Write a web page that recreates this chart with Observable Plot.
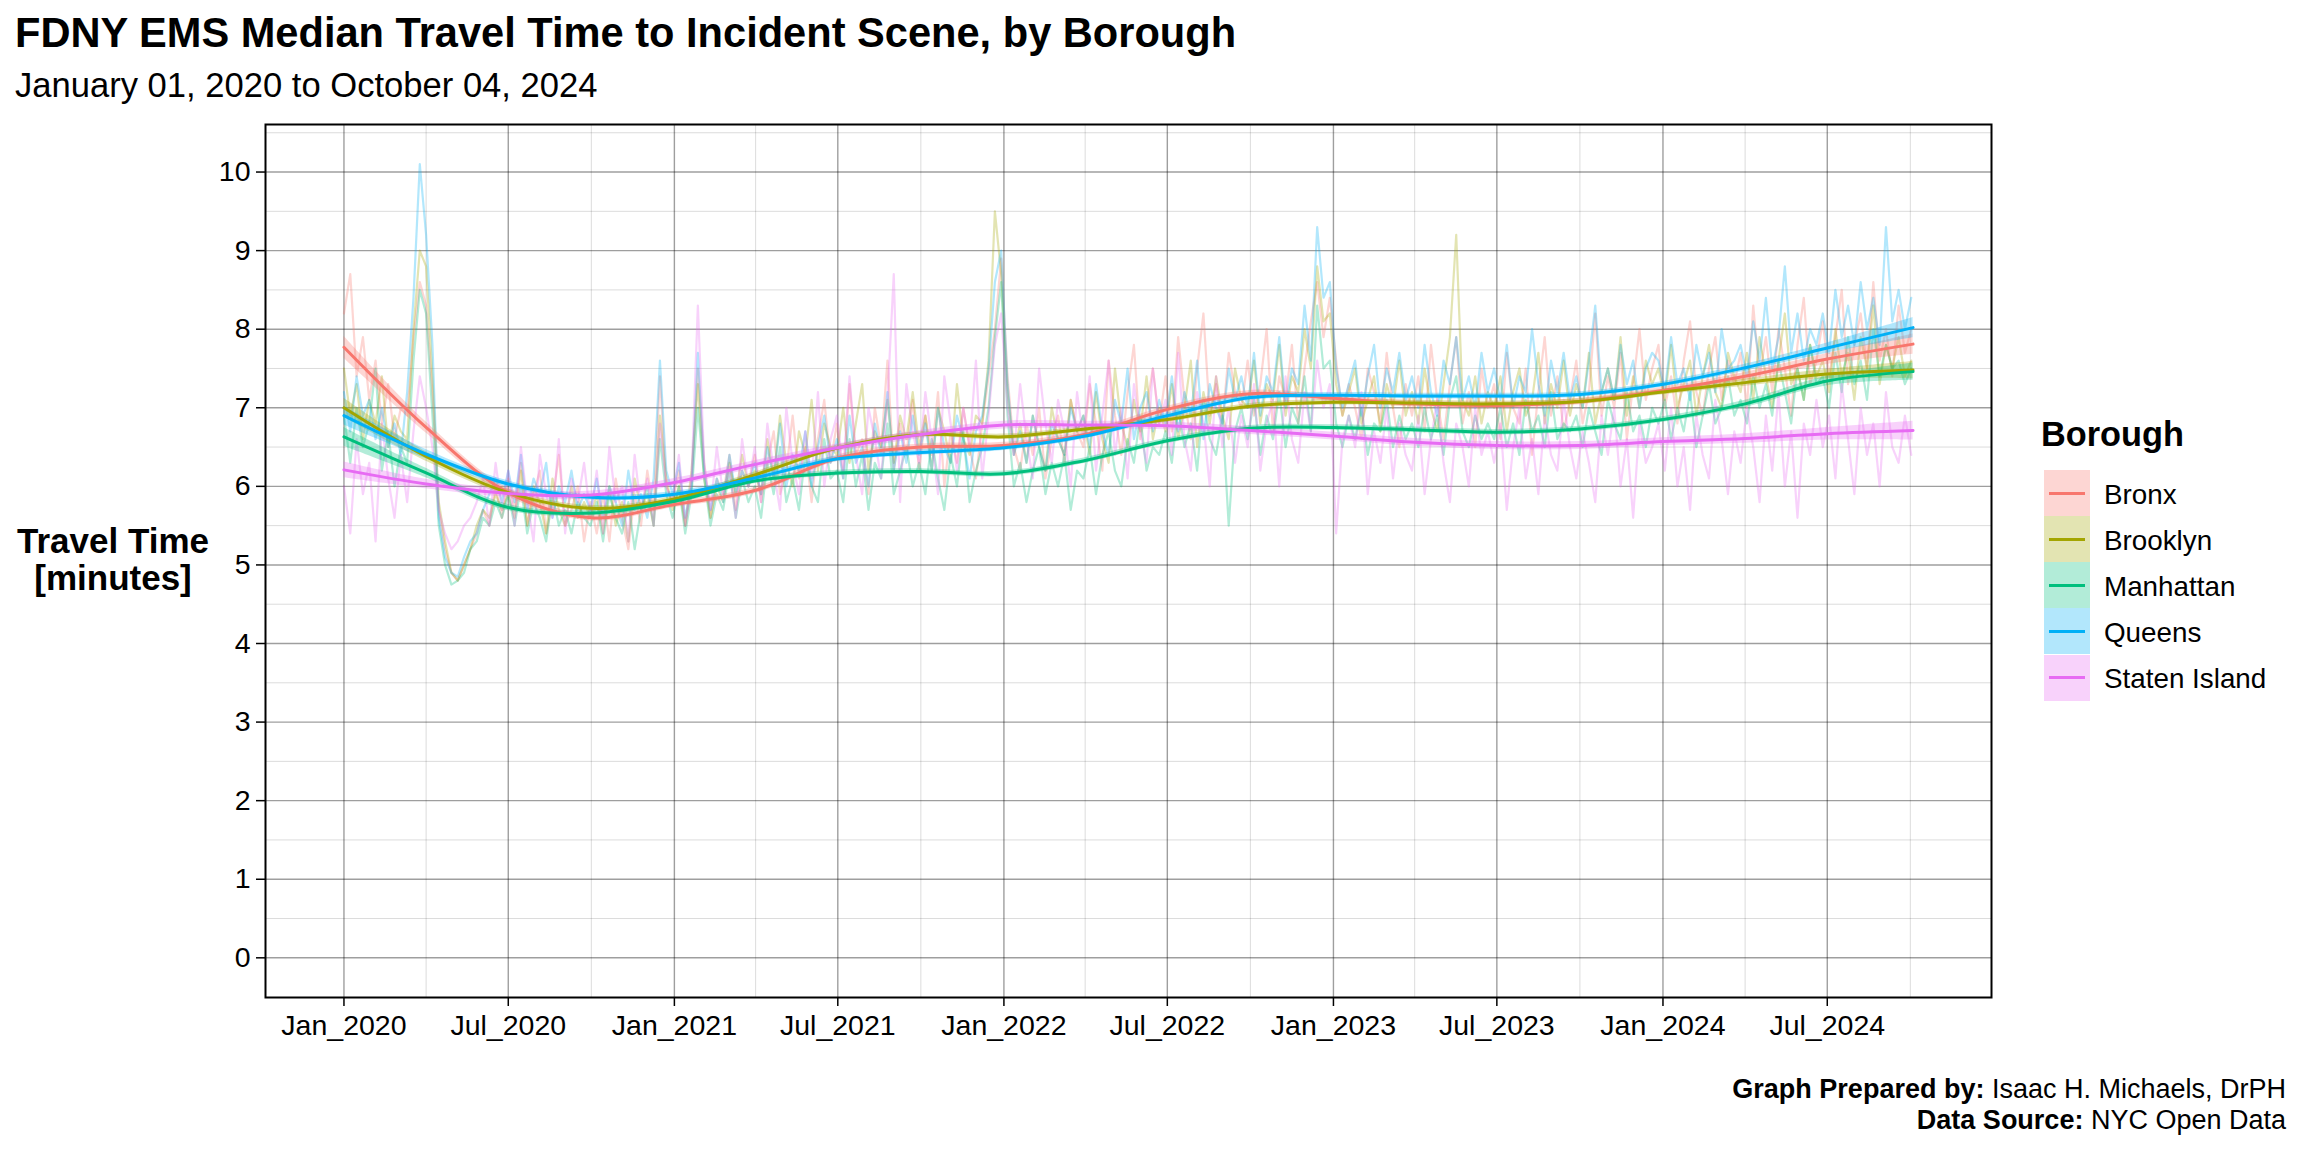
<!DOCTYPE html>
<html>
<head>
<meta charset="utf-8">
<script src="https://cdn.jsdelivr.net/npm/d3@7"></script>
<script src="https://cdn.jsdelivr.net/npm/@observablehq/plot@0.6"></script>
<style>
  html, body { margin: 0; padding: 0; background: #fff; }
  body { font-family: "Liberation Sans", Arial, Helvetica, sans-serif; color: #000; }
  #wrap { position: relative; width: 2304px; height: 1152px; overflow: hidden; background: #fff; }
  .abs { position: absolute; white-space: nowrap; }
  #title { left: 15px; top: 11.5px; font-size: 41.6px; line-height: 1; font-weight: bold; }
  #subtitle { left: 15px; top: 68px; font-size: 34.6px; line-height: 1; }
  #ytitle { left: 13px; top: 522px; width: 200px; text-align: center; font-size: 35px; line-height: 37px; font-weight: bold; }
  #legtitle { left: 2041px; top: 417px; font-size: 34.3px; line-height: 1; font-weight: bold; }
  .legkey { position: absolute; width: 46px; height: 46px; }
  .legline { position: absolute; left: 5px; width: 36px; height: 3px; top: 21.5px; }
  .leglab { position: absolute; font-size: 27.8px; line-height: 1; white-space: nowrap; }
  .cap { right: 18px; font-size: 27px; line-height: 24px; height: 24px; text-align: right; }
  #cap1 { top: 1077px; }
  #cap2 { top: 1108px; }
  #chart { position: absolute; left: 0; top: 0; }
</style>
</head>
<body>
<div id="wrap">
  <div id="chart"></div>
  <div id="title" class="abs">FDNY EMS Median Travel Time to Incident Scene, by Borough</div>
  <div id="subtitle" class="abs">January 01, 2020 to October 04, 2024</div>
  <div id="ytitle" class="abs">Travel Time<br>[minutes]</div>
  <div id="legtitle" class="abs">Borough</div>
  <div id="legend"></div>
  <div id="cap1" class="abs cap"><b>Graph Prepared by:</b> Isaac H. Michaels, DrPH</div>
  <div id="cap2" class="abs cap"><b>Data Source:</b> NYC Open Data</div>
</div>
<script>
// ---------------- DATA ----------------
const boroughs = ["Bronx", "Brooklyn", "Manhattan", "Queens", "Staten Island"];
const boroughColors = ["#F8766D", "#A3A500", "#00BF7D", "#00B0F6", "#E76BF3"];

// weekly samples of the median travel time, starting 2020-01-01, one value every 7 days
const rawStart = "2020-01-01";
const rawStepDays = 7;

const bronxRaw = [
8.2,8.7,7.4,7.9,7.1,7.6,6.8,7.3,6.6,7.0,6.9,7.9,8.6,
8.3,7.2,5.7,5.2,4.9,4.8,5.0,5.2,5.4,5.7,5.5,6.0,5.6,
6.1,5.7,6.3,5.5,5.9,6.2,5.4,5.8,6.4,5.5,5.7,6.0,5.3,
5.8,5.4,5.9,5.3,6.1,5.6,5.2,5.9,5.5,6.2,5.7,7.4,6.0,
5.8,6.2,5.5,6.0,7.5,6.3,5.6,6.1,5.9,6.4,5.7,6.2,6.0,
6.4,5.8,6.3,6.7,5.9,6.2,6.9,6.1,6.5,5.8,6.6,7.1,6.3,
6.8,6.1,7.3,6.4,6.6,5.9,7.0,6.5,7.6,6.2,6.8,6.4,7.1,
6.2,6.9,6.4,7.2,6.0,6.7,6.3,7.0,6.5,6.1,6.8,7.4,8.0,
8.9,7.4,6.5,6.2,6.8,6.4,7.0,6.1,6.6,6.9,6.3,7.1,6.7,
6.5,7.3,6.8,6.2,7.6,6.9,6.4,7.2,7.8,6.6,7.0,7.5,6.8,
7.4,6.7,7.9,7.1,6.6,7.5,8.2,6.9,7.3,6.8,7.7,7.2,7.0,
7.6,6.9,7.3,8.0,6.7,7.4,7.1,7.8,6.8,7.5,8.1,8.6,7.9,
8.4,7.6,6.9,7.3,7.0,6.6,7.5,7.2,6.8,7.7,7.0,6.5,7.3,
6.9,7.4,6.7,7.8,7.1,6.6,7.3,7.9,6.8,7.2,6.5,7.5,7.0,
7.3,6.6,7.7,7.0,6.8,7.5,6.4,7.2,7.9,6.9,7.4,6.7,7.1,
7.6,6.8,7.2,8.2,6.9,7.4,7.0,7.7,6.6,7.3,8.0,7.1,7.5,
7.8,7.0,7.4,6.8,7.6,8.1,7.2,6.9,7.5,7.9,7.1,7.6,7.3,
7.7,7.0,8.3,7.4,7.9,7.2,8.0,7.5,6.9,7.8,8.4,7.3,7.6,
8.1,7.4,7.9,8.5,7.3,7.8,8.2,7.5,8.6,7.6,8.0,7.4,8.3,
7.7,8.0];

const brooklynRaw = [
7.5,6.9,7.3,6.6,7.1,6.8,7.4,6.5,6.9,6.7,6.6,8.0,9.0,
8.8,7.4,5.8,5.3,4.9,4.8,5.0,5.2,5.5,5.7,5.6,5.9,5.7,
5.9,5.6,6.2,5.5,6.0,5.8,5.4,6.1,5.7,5.5,6.0,5.6,5.8,
5.6,5.9,5.4,6.0,5.5,5.8,5.3,6.1,5.7,5.9,5.5,6.9,6.1,
5.7,6.0,5.5,6.2,7.3,6.1,5.6,6.0,5.8,6.3,5.9,6.4,6.0,
6.2,5.9,6.6,6.1,6.9,6.3,6.0,6.7,6.4,7.1,6.2,6.8,6.5,
6.4,7.0,6.3,6.8,7.3,6.2,6.7,6.5,7.1,6.3,6.9,6.6,7.2,
6.5,6.9,6.2,7.0,6.7,6.3,7.3,6.6,6.4,6.9,6.8,7.6,9.5,
8.7,7.2,6.4,6.8,6.3,6.9,6.5,6.2,7.0,6.6,6.4,7.1,6.7,
6.9,6.4,7.2,6.6,6.3,7.5,6.8,6.5,7.1,6.7,7.4,6.6,7.0,
6.7,7.3,6.6,7.0,7.6,6.5,7.2,6.8,7.4,6.9,6.6,7.5,7.1,
7.0,7.6,6.8,7.3,7.1,7.8,6.9,7.4,7.2,8.0,7.5,8.8,8.1,
8.2,7.3,6.9,7.2,7.5,6.8,7.1,7.4,6.7,7.3,7.0,7.6,6.9,
7.2,6.8,7.5,7.0,6.7,7.3,7.9,9.2,7.1,6.9,7.4,6.8,7.2,
7.0,7.4,6.7,7.2,7.5,6.9,7.1,7.7,6.8,7.3,7.0,7.6,6.9,
7.3,7.0,7.7,6.8,7.2,7.5,7.1,7.9,6.9,7.4,7.0,7.6,7.3,
7.5,7.1,7.8,7.0,7.3,7.6,6.9,7.4,7.8,7.2,7.0,7.7,7.4,
7.2,7.7,7.1,7.9,7.4,7.0,7.6,8.2,7.3,7.5,7.1,7.8,7.4,
7.6,7.2,8.0,7.4,7.7,7.1,7.9,7.5,8.3,7.3,7.8,7.5,7.9,
7.4,7.6];

const manhattanRaw = [
6.9,6.3,7.0,6.5,6.8,7.5,6.2,6.7,6.0,6.5,6.3,7.6,8.5,
8.2,6.9,5.5,5.0,4.75,4.8,4.9,5.2,5.3,5.6,5.5,5.8,5.6,
5.9,5.5,6.0,5.4,5.8,5.6,5.3,5.9,5.5,5.7,5.4,5.8,5.6,
5.5,5.8,5.3,5.9,5.6,5.4,5.8,5.2,5.7,6.0,5.5,6.6,5.9,
5.6,6.0,5.4,5.9,7.0,6.1,5.5,5.9,5.7,6.2,5.6,6.1,5.8,
6.0,5.6,6.3,5.9,6.5,5.8,6.1,5.7,6.4,6.0,5.8,6.6,6.1,
6.2,5.8,6.6,6.0,6.4,5.7,6.3,6.1,6.8,5.9,6.2,6.5,6.0,
6.3,5.9,6.6,6.1,5.7,6.4,6.0,6.7,5.8,6.2,6.5,7.0,7.9,
8.6,6.9,6.0,6.3,5.8,6.2,6.5,5.9,6.3,6.0,6.4,5.7,6.2,
6.1,6.5,5.9,6.4,6.7,6.2,6.0,6.6,6.3,6.9,6.2,6.5,6.4,
6.7,6.3,7.0,6.5,6.8,6.2,7.1,6.6,6.4,6.9,5.5,6.7,7.0,
6.6,7.1,6.4,6.9,6.6,7.2,6.5,7.0,6.8,7.4,6.7,8.3,7.5,
7.6,6.8,6.5,6.9,6.6,7.0,6.4,6.8,6.7,7.1,6.5,6.9,6.6,
6.8,6.5,7.0,6.6,6.9,6.4,7.1,7.4,6.7,6.5,6.9,6.6,6.8,
6.6,7.0,6.5,6.8,6.4,7.1,6.7,6.9,6.5,7.2,6.6,6.8,6.7,
6.9,6.5,7.0,6.7,6.4,7.1,6.8,6.6,7.2,6.7,6.9,6.5,7.0,
6.8,7.1,6.6,7.0,6.7,7.2,6.5,6.9,7.3,6.8,7.0,7.4,6.9,
7.1,6.8,7.4,7.0,7.3,6.9,7.6,7.2,6.8,7.5,7.1,7.8,7.3,
7.4,7.0,7.7,7.2,7.9,7.3,7.6,7.1,8.0,7.4,7.8,7.5,7.6,
7.3,7.5];

const queensRaw = [
7.2,6.7,7.4,6.9,7.1,6.6,7.0,6.5,6.8,6.4,7.2,8.4,10.1,
9.2,7.8,5.6,5.1,4.9,4.85,5.1,5.3,5.4,5.7,5.9,6.1,5.8,
6.2,5.8,6.4,5.7,6.1,5.9,6.3,5.6,6.0,5.8,6.2,5.7,5.9,
5.7,6.1,5.6,6.0,5.8,5.5,6.2,5.7,5.9,5.6,6.1,7.6,6.2,
5.9,6.3,5.6,6.0,7.7,6.2,5.7,6.1,5.8,6.4,5.9,6.2,6.0,
6.3,5.9,6.5,6.1,6.8,6.0,6.4,6.2,6.7,6.0,6.5,6.9,6.3,
6.6,6.1,6.9,6.3,6.5,6.0,6.8,6.4,7.2,6.2,6.7,6.3,6.9,
6.4,6.8,6.2,7.0,6.5,6.3,6.9,6.6,6.1,6.7,6.9,7.5,8.6,
9.0,7.3,6.4,6.7,6.3,6.9,6.5,6.2,6.8,6.6,6.4,7.0,6.7,
6.9,6.5,7.3,6.7,6.4,7.1,6.8,7.5,6.6,7.0,7.2,6.7,7.1,
6.8,7.4,6.7,7.2,6.9,7.6,6.6,7.3,7.0,6.8,7.5,7.1,7.4,
7.0,7.7,6.9,7.4,7.2,7.9,7.0,7.5,7.3,8.3,7.6,9.3,8.4,
8.6,7.5,7.0,7.3,7.6,6.9,7.4,7.8,7.0,7.5,7.2,7.7,7.1,
7.4,7.0,7.8,7.2,6.9,7.6,7.3,7.9,7.1,7.4,7.0,7.7,7.2,
7.5,7.1,7.8,7.0,7.4,7.2,8.0,7.3,6.9,7.6,7.2,7.7,7.1,
7.4,7.0,7.6,8.3,7.2,7.5,7.1,7.8,7.3,7.6,7.0,7.5,7.7,
7.6,7.2,7.9,7.3,7.5,7.1,7.8,7.4,7.7,7.2,8.0,7.5,7.6,
7.8,7.4,8.1,7.6,8.4,7.5,7.9,8.8,7.7,8.2,7.6,8.0,7.8,
8.2,7.7,8.5,7.9,8.3,7.8,8.6,8.0,8.4,7.8,9.3,8.1,8.5,
8.0,8.4];

const statenIslandRaw = [
6.0,5.4,6.6,5.9,6.3,5.3,6.8,6.1,5.6,6.4,5.8,6.7,7.4,
7.0,6.5,5.7,5.4,5.2,5.3,5.5,5.6,5.8,6.1,5.5,6.3,5.7,
6.2,5.5,6.5,5.8,5.3,6.4,5.9,5.6,6.6,5.4,6.1,5.8,6.3,
5.6,6.2,5.4,6.5,5.8,6.0,5.3,6.4,5.7,6.1,5.5,6.8,6.0,
5.8,6.4,5.5,6.1,8.3,6.3,5.7,6.5,5.9,6.2,5.6,6.6,6.0,
6.5,5.8,6.8,6.2,5.7,7.0,6.3,5.9,6.7,6.1,7.2,6.0,6.6,
6.9,6.2,7.4,6.4,5.9,7.0,6.6,6.1,7.1,8.7,5.8,7.3,6.7,
6.3,7.2,6.6,5.9,7.4,6.8,6.2,7.0,6.5,7.6,6.1,6.9,7.8,
8.2,7.0,6.4,7.3,6.6,6.1,7.5,6.8,6.3,7.1,6.7,6.0,7.2,
6.6,7.4,6.2,6.9,7.6,6.4,7.0,6.1,7.3,6.7,6.3,7.5,6.8,
7.1,6.4,7.7,6.6,6.2,7.2,6.8,6.0,7.4,6.5,7.0,6.3,6.9,
6.5,7.3,6.2,6.8,7.1,6.0,7.4,6.6,6.3,7.2,6.7,7.6,7.0,
7.3,5.4,6.6,6.9,6.5,7.2,5.9,6.7,6.3,7.0,6.1,6.8,6.4,
6.2,6.9,5.9,6.6,7.1,6.3,5.8,6.8,6.5,6.0,7.0,6.4,6.7,
6.3,6.8,5.7,6.5,7.0,6.1,6.6,5.9,6.9,6.4,6.2,7.1,6.5,
6.1,6.7,6.3,5.8,6.9,6.4,7.0,6.0,6.6,5.6,6.8,6.3,6.5,
6.8,6.2,7.0,6.0,6.5,5.7,6.9,6.4,6.1,7.1,6.6,5.9,6.7,
6.3,7.0,6.5,5.8,6.9,6.2,7.2,6.0,6.7,5.6,6.8,6.4,7.1,
6.5,6.9,6.1,7.3,6.6,5.9,7.0,6.4,6.8,6.0,7.2,6.5,6.3,
6.9,6.4];

// smoothed (loess) trend read at quarter starts, and its confidence half-width
const smoothDates = ["2020-01-01","2020-04-01","2020-07-01","2020-10-01",
  "2021-01-01","2021-04-01","2021-07-01","2021-10-01",
  "2022-01-01","2022-04-01","2022-07-01","2022-10-01",
  "2023-01-01","2023-04-01","2023-07-01","2023-10-01",
  "2024-01-01","2024-04-01","2024-07-01","2024-10-04"];
const bronxSmooth     = [7.77,6.75,5.92,5.60,5.77,5.95,6.36,6.50,6.52,6.66,6.98,7.18,7.12,7.05,7.03,7.08,7.22,7.40,7.62,7.81];
const brooklynSmooth  = [7.00,6.38,5.92,5.72,5.84,6.15,6.49,6.66,6.63,6.73,6.85,7.02,7.07,7.06,7.05,7.08,7.20,7.32,7.43,7.48];
const manhattanSmooth = [6.63,6.17,5.73,5.66,5.81,6.07,6.17,6.19,6.16,6.33,6.58,6.74,6.75,6.72,6.69,6.73,6.85,7.05,7.34,7.46];
const queensSmooth    = [6.90,6.41,6.03,5.86,5.90,6.11,6.35,6.43,6.49,6.64,6.90,7.13,7.16,7.15,7.15,7.17,7.30,7.51,7.76,8.02];
const statenSmooth    = [6.21,6.03,5.91,5.89,6.05,6.28,6.49,6.66,6.78,6.78,6.77,6.71,6.64,6.56,6.52,6.52,6.57,6.61,6.67,6.71];
const bronxCI     = [0.14,0.07,0.05,0.04,0.04,0.04,0.04,0.04,0.04,0.04,0.04,0.04,0.04,0.04,0.04,0.04,0.04,0.05,0.07,0.13];
const brooklynCI  = [0.12,0.06,0.04,0.035,0.035,0.035,0.035,0.035,0.035,0.035,0.035,0.035,0.035,0.035,0.035,0.035,0.035,0.045,0.06,0.11];
const manhattanCI = [0.12,0.06,0.04,0.035,0.035,0.035,0.035,0.035,0.035,0.035,0.035,0.035,0.035,0.035,0.035,0.035,0.035,0.045,0.06,0.11];
const queensCI    = [0.12,0.06,0.04,0.035,0.035,0.035,0.035,0.035,0.035,0.035,0.035,0.035,0.035,0.035,0.035,0.035,0.035,0.045,0.065,0.13];
const statenCI    = [0.10,0.06,0.05,0.05,0.05,0.05,0.05,0.05,0.05,0.05,0.05,0.05,0.05,0.05,0.05,0.05,0.05,0.06,0.08,0.12];

// axis ticks
const xMajorTicks = ["2020-01-01","2020-07-01","2021-01-01","2021-07-01","2022-01-01",
  "2022-07-01","2023-01-01","2023-07-01","2024-01-01","2024-07-01"];
const xMinorTicks = ["2020-04-01","2020-10-01","2021-04-01","2021-10-01","2022-04-01",
  "2022-10-01","2023-04-01","2023-10-01","2024-04-01","2024-10-01"];
const yMajorTicks = [0,1,2,3,4,5,6,7,8,9,10];
const yMinorTicks = [0.5,1.5,2.5,3.5,4.5,5.5,6.5,7.5,8.5,9.5,10.5];
const yDomain = [-0.505, 10.605];
const dataEnd = "2024-10-04";

// ---------------- BUILD ----------------
const parse = d3.utcParse("%Y-%m-%d");
const start = parse(rawStart);
const rawSeries = [bronxRaw, brooklynRaw, manhattanRaw, queensRaw, statenIslandRaw];
const smoothSeries = [bronxSmooth, brooklynSmooth, manhattanSmooth, queensSmooth, statenSmooth];
const ciSeries = [bronxCI, brooklynCI, manhattanCI, queensCI, statenCI];

const rawRows = [];
boroughs.forEach((b, bi) => {
  rawSeries[bi].forEach((v, k) => {
    rawRows.push({borough: b, date: d3.utcDay.offset(start, rawStepDays * k), value: v});
  });
});
const smoothRows = [];
boroughs.forEach((b, bi) => {
  smoothSeries[bi].forEach((v, i) => {
    const c = ciSeries[bi][i];
    smoothRows.push({borough: b, date: parse(smoothDates[i]), value: v, lo: v - c, hi: v + c});
  });
});

const t0 = start.getTime(), t1 = parse(dataEnd).getTime();
const pad = (t1 - t0) * 0.05;
const xDomain = [new Date(t0 - pad), new Date(t1 + pad)];

const majorX = xMajorTicks.map(parse);
const minorX = xMinorTicks.map(parse);

const chart = Plot.plot({
  width: 2000,
  height: 1060,
  marginLeft: 265,
  marginRight: 9,
  marginTop: 124,
  marginBottom: 63,
  style: {fontFamily: '"Liberation Sans", Arial, Helvetica, sans-serif', fontSize: "28px", color: "#000", background: "transparent", overflow: "visible"},
  x: {type: "utc", domain: xDomain, axis: null},
  y: {domain: yDomain, axis: null},
  color: {domain: boroughs, range: boroughColors},
  marks: [
    Plot.ruleX(minorX, {stroke: "#000", strokeOpacity: 0.14, strokeWidth: 1}),
    Plot.ruleY(yMinorTicks, {stroke: "#000", strokeOpacity: 0.14, strokeWidth: 1}),
    Plot.ruleX(majorX, {stroke: "#000", strokeOpacity: 0.38, strokeWidth: 1.4}),
    Plot.ruleY(yMajorTicks, {stroke: "#000", strokeOpacity: 0.38, strokeWidth: 1.4}),
    Plot.lineY(rawRows, {x: "date", y: "value", z: "borough", stroke: "borough", strokeOpacity: 0.3, strokeWidth: 2.2}),
    Plot.areaY(smoothRows, {x: "date", y1: "lo", y2: "hi", z: "borough", fill: "borough", fillOpacity: 0.3, curve: "catmull-rom"}),
    Plot.lineY(smoothRows, {x: "date", y: "value", z: "borough", stroke: "borough", strokeWidth: 3, curve: "catmull-rom"}),
    Plot.axisX(majorX, {tickFormat: d3.utcFormat("%b_%Y"), tickSize: 9, tickPadding: 8, fontSize: 28.5, stroke: "#000", strokeWidth: 1.5, fill: "#000", label: null}),
    Plot.axisY(yMajorTicks, {tickFormat: d3.format("d"), tickSize: 9, tickPadding: 6, fontSize: 28.5, stroke: "#000", strokeWidth: 1.5, fill: "#000", label: null}),
    Plot.frame({stroke: "#000", strokeWidth: 2})
  ]
});
document.getElementById("chart").appendChild(chart);

// legend
const legend = d3.select("#legend");
boroughs.forEach((b, i) => {
  const top = 470 + 46.15 * i;
  const bg = d3.color(boroughColors[i]).copy({opacity: 0.3});
  const key = legend.append("div").attr("class", "legkey")
    .style("left", "2044px").style("top", top + "px").style("background", bg.toString());
  key.append("div").attr("class", "legline").style("background", boroughColors[i]);
  legend.append("div").attr("class", "leglab")
    .style("left", "2104px").style("top", (top + 10.5) + "px").text(b);
});
</script>
</body>
</html>
